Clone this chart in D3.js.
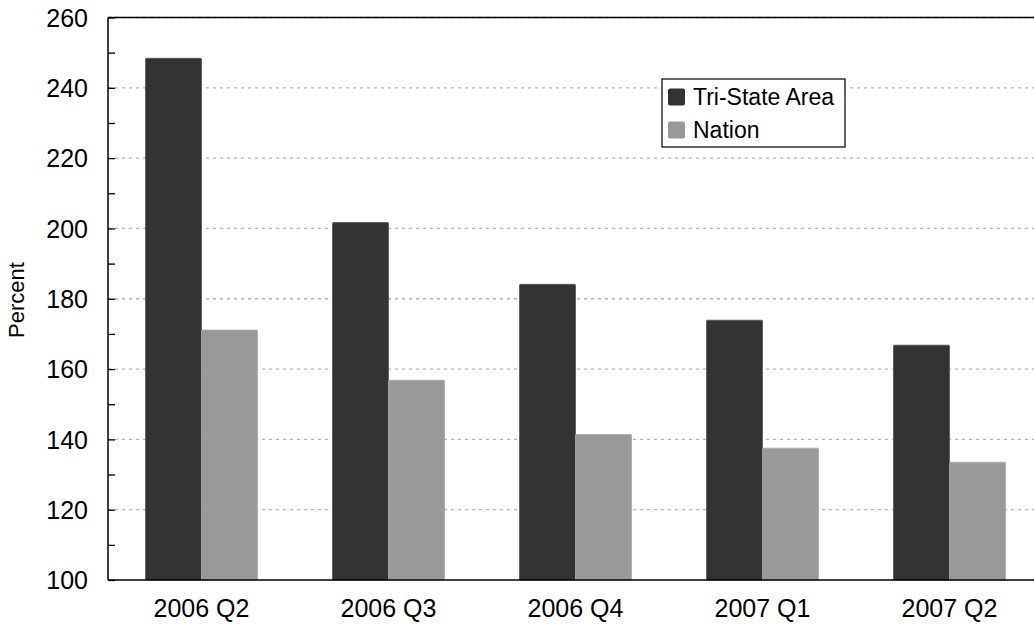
<!DOCTYPE html>
<html>
<head>
  <meta charset="utf-8">
  <script src="https://d3js.org/d3.v7.min.js"></script>
  <style>
    body { margin: 0; background: #fff; }
    text { font-family: "Liberation Sans", Arial, Helvetica, sans-serif; fill: #000; }
  </style>
</head>
<body>
  <div id="container"></div>
  <script>
    var quarters = ["2006 Q2", "2006 Q3", "2006 Q4", "2007 Q1", "2007 Q2"];
    var seriesNames = ["Tri-State Area", "Nation"];
    var triState = [248.4, 201.7, 184.1, 173.9, 166.8];
    var nation = [171.1, 156.8, 141.4, 137.5, 133.5];
    var seriesColors = ["#333333", "#999999"];
    var yTicks = [100, 120, 140, 160, 180, 200, 220, 240, 260];

    var w = 1034, h = 635;
    var plotL = 108, plotT = 17.5, plotR = 1043, plotB = 580;

    var svg = d3.select("#container").append("svg")
        .attr("width", w).attr("height", h);

    var x = d3.scaleBand().domain(quarters).range([plotL, plotR]);
    var y = d3.scaleLinear().domain([100, 260]).range([plotB, plotT]);
    var barW = 56;

    // gridlines
    svg.append("g").selectAll("line")
      .data(yTicks.slice(1))
      .enter().append("line")
        .attr("x1", plotL).attr("x2", plotR)
        .attr("y1", function(d) { return y(d); })
        .attr("y2", function(d) { return y(d); })
        .style("stroke", "#b3b3b3")
        .style("stroke-width", 1.3)
        .style("stroke-dasharray", "3,4");

    var series = [triState, nation];
    series.forEach(function(vals, s) {
      svg.append("g").selectAll("rect")
        .data(vals)
        .enter().append("rect")
          .attr("x", function(d, i) { return x(quarters[i]) + x.bandwidth() / 2 - barW + s * barW; })
          .attr("y", function(d) { return y(d); })
          .attr("width", barW)
          .attr("height", function(d) { return y(100) - y(d); })
          .attr("rx", 1)
          .style("fill", seriesColors[s])
          .style("stroke", s == 0 ? "#555" : "#a8a8a8")
          .style("stroke-width", 0.8);
    });

    // y axis with inward ticks every 10
    var yAxis = d3.axisLeft(y)
        .tickValues(d3.range(100, 261, 10))
        .tickSize(-7)
        .tickFormat(function(d) { return d % 20 == 0 ? d : ""; });
    var gy = svg.append("g").attr("transform", "translate(" + plotL + ",0)").call(yAxis);
    gy.select(".domain").remove();
    gy.selectAll("line").style("stroke", "#000").style("stroke-width", 1.3);
    gy.selectAll("text").style("font-size", "25px").attr("x", -20).attr("dy", "0.35em");

    // frame
    svg.append("line").attr("x1", plotL).attr("x2", plotL).attr("y1", plotT).attr("y2", plotB)
      .style("stroke", "#000").style("stroke-width", 1.5);
    svg.append("line").attr("x1", plotL).attr("x2", plotR).attr("y1", plotT).attr("y2", plotT)
      .style("stroke", "#000").style("stroke-width", 1.5);
    svg.append("line").attr("x1", plotL).attr("x2", plotR).attr("y1", plotB).attr("y2", plotB)
      .style("stroke", "#000").style("stroke-width", 1.5);

    // x labels
    var xAxis = d3.axisBottom(x).tickSize(0).tickPadding(0);
    var gx = svg.append("g").attr("transform", "translate(0," + plotB + ")").call(xAxis);
    gx.select(".domain").remove();
    gx.selectAll("text").style("font-size", "25px").attr("y", 28).attr("dy", "0.35em");

    svg.append("text")
      .attr("transform", "translate(24,300) rotate(-90)")
      .attr("text-anchor", "middle")
      .style("font-size", "22px")
      .text("Percent");

    // legend
    var lg = svg.append("g").attr("transform", "translate(662,79)");
    lg.append("rect").attr("width", 183).attr("height", 68)
      .style("fill", "#fff").style("stroke", "#000").style("stroke-width", 1.2);
    seriesNames.forEach(function(name, i) {
      var row = lg.append("g").attr("transform", "translate(0," + (18 + i * 33) + ")");
      row.append("rect").attr("x", 6).attr("y", -8.5).attr("width", 17).attr("height", 17)
        .attr("rx", 2).style("fill", seriesColors[i]);
      row.append("text").attr("x", 31).attr("dy", "0.36em")
        .style("font-size", "23px").text(name);
    });
  </script>
</body>
</html>
